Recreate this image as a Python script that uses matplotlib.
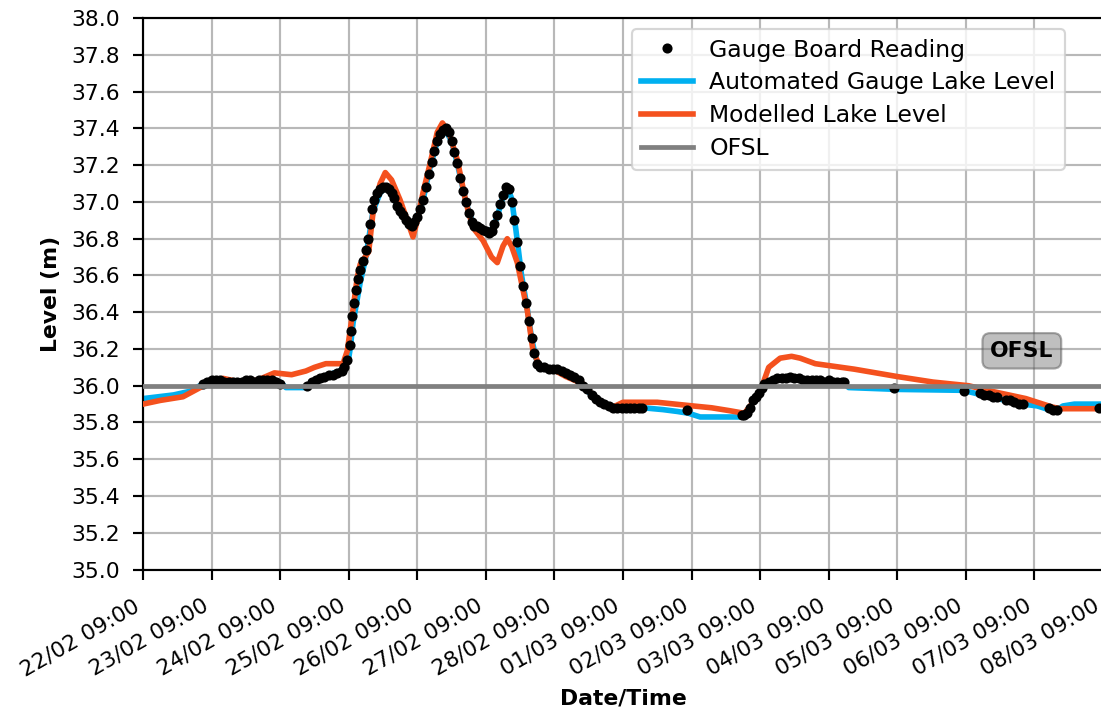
import numpy as np
import pandas as pd
import matplotlib
matplotlib.use('Agg')
import matplotlib.pyplot as plt
import matplotlib.dates as mdates

start = pd.Timestamp('2022-02-22 09:00')
ofsl = 36.0

# automated gauge lake level (hours after 22/02 09:00, level m)
auto_hours = [0, 10.7, 16.5, 21, 27, 34, 40, 45.7, 48, 50, 57, 60, 63, 69, 71.9,
              72.5, 73.5, 76, 78, 80.5, 83, 85, 87, 90, 94, 96, 98, 100.5, 103,
              105.5, 108, 110, 113, 115.5, 118, 121.5, 124, 126, 127.5, 129,
              130.5, 132.5, 134.5, 136, 137.5, 139, 144, 147, 150, 153, 157, 160,
              163, 166, 175, 182, 187, 191, 195, 205, 209, 210.5, 211.5, 212.5,
              213.5, 215.5, 217.5, 220, 226, 235, 241, 245, 247, 264, 287, 291,
              296, 302, 308, 313, 317, 320, 322, 326, 336]
auto_level = [35.93, 35.95, 35.97, 36.01, 36.03, 36.02, 36.02, 36.03, 36.02, 35.99,
              35.99, 36.03, 36.05, 36.08, 36.14, 36.20, 36.34, 36.56, 36.70, 36.95,
              37.05, 37.08, 37.05, 36.95, 36.88, 36.92, 37.01, 37.19, 37.33, 37.40,
              37.33, 37.21, 37.00, 36.88, 36.86, 36.83, 36.92, 37.03, 37.08, 37.02,
              36.85, 36.60, 36.42, 36.26, 36.15, 36.10, 36.09, 36.08, 36.05, 36.01,
              35.95, 35.91, 35.89, 35.88, 35.88, 35.87, 35.86, 35.85, 35.83, 35.83,
              35.83, 35.84, 35.85, 35.88, 35.92, 35.96, 36.01, 36.03, 36.04, 36.02,
              36.02, 36.02, 35.99, 35.98, 35.975, 35.96, 35.94, 35.92, 35.90, 35.89,
              35.87, 35.87, 35.89, 35.90, 35.90]

# modelled lake level
model_hours = [0, 6, 14, 20, 22, 28, 34, 40, 46, 52, 57, 60, 64, 70, 71.5, 72.5,
               75, 76, 79, 80.7, 83, 84.8, 87, 90, 94.5, 96, 98, 100.5, 103, 104.8,
               107, 110, 113, 115.5, 119, 122, 124, 126, 127.5, 129, 131, 134.5,
               136.5, 139, 144.5, 148, 154, 159, 164, 168, 180, 192.5, 199, 205,
               210.5, 214, 216.5, 219, 223, 227, 230, 235.3, 249, 264, 276.5, 289,
               297, 303, 309, 314, 318, 321, 336]
model_level = [35.90, 35.92, 35.94, 35.99, 36.01, 36.04, 36.02, 36.03, 36.07, 36.06,
               36.08, 36.10, 36.12, 36.12, 36.19, 36.30, 36.59, 36.66, 36.73, 36.97,
               37.10, 37.16, 37.12, 37.01, 36.81, 36.90, 37.05, 37.21, 37.38, 37.43,
               37.38, 37.23, 37.00, 36.86, 36.79, 36.70, 36.67, 36.76, 36.80, 36.76,
               36.67, 36.41, 36.19, 36.10, 36.08, 36.05, 36.01, 35.92, 35.88, 35.91,
               35.91, 35.89, 35.88, 35.865, 35.85, 35.92, 35.99, 36.10, 36.15, 36.16,
               36.15, 36.12, 36.09, 36.05, 36.02, 36.00, 35.97, 35.95, 35.93, 35.905,
               35.885, 35.875, 35.875]

# gauge board readings
board_hours = [21, 22.5, 24, 25.5, 27, 28.5, 30, 31.5, 33, 34.5, 36, 37.5, 39, 40.5,
               42, 43.5, 45, 46.5, 48,
               57.5, 59, 60.5, 62, 63.5, 65, 66.5, 68, 69.5, 70.5, 71.5,
               72.3, 72.8, 73.3, 73.8, 74.5, 75.2, 76, 77, 78, 78.8, 79.5, 80.2,
               81, 82, 83, 84, 85, 86, 87, 88, 89, 90, 91, 92, 93, 94, 95, 96, 97,
               98, 99, 100, 101, 102, 103, 104, 105, 106, 107, 108, 109, 110, 111,
               112, 113, 114, 115, 116, 117, 118, 119, 120, 121, 122, 123, 124, 125,
               126, 127, 128, 129, 130, 131, 132, 133, 134, 135, 136, 137, 138, 139,
               140.5, 142, 143.5, 145, 146.5, 148, 149.5, 151, 152.5, 154, 155.5,
               157, 158.5, 160, 161.5, 163, 164.5, 166, 167.5, 169, 170.5, 172,
               173.5, 174.5,
               190.3,
               209.5, 210.5, 211.5, 212.5, 213.5, 214.5, 215.5, 216.5, 217.5, 219,
               220.5, 222, 223.5, 225, 226.5, 228, 229.5, 231, 232.5, 234, 235.5,
               237, 238.5, 240, 241.5, 243, 244.5, 245.5,
               262.8, 287.5,
               293, 294.5, 296, 297.5, 299, 302, 303.5, 305, 306.5, 308, 317, 318.5,
               320, 334.5]
board_level = [36.01, 36.02, 36.03, 36.03, 36.03, 36.02, 36.02, 36.02, 36.02, 36.02,
               36.03, 36.03, 36.02, 36.03, 36.03, 36.03, 36.03, 36.02, 36.01,
               36.00, 36.02, 36.03, 36.04, 36.05, 36.06, 36.06, 36.07, 36.08, 36.10,
               36.14,
               36.22, 36.30, 36.38, 36.45, 36.52, 36.58, 36.63, 36.68, 36.74, 36.80,
               36.88, 36.96,
               37.01, 37.05, 37.07, 37.08, 37.08, 37.07, 37.05, 37.02, 36.98, 36.95,
               36.93, 36.90, 36.88, 36.87, 36.89, 36.92, 36.96, 37.01, 37.08, 37.15,
               37.22, 37.28, 37.33, 37.37, 37.39, 37.40, 37.38, 37.33, 37.27, 37.21,
               37.13, 37.06, 37.00, 36.94, 36.89, 36.87, 36.87, 36.86, 36.85, 36.84,
               36.83, 36.84, 36.88, 36.93, 36.99, 37.04, 37.08, 37.07, 37.00, 36.90,
               36.78, 36.65, 36.54, 36.45, 36.35, 36.26, 36.18, 36.12, 36.10,
               36.10, 36.09, 36.09, 36.09, 36.08, 36.07, 36.06, 36.05, 36.03, 36.00,
               35.98, 35.95, 35.93, 35.91, 35.90, 35.89, 35.88, 35.88, 35.88, 35.88,
               35.88, 35.88, 35.88, 35.88,
               35.87,
               35.84, 35.84, 35.85, 35.88, 35.92, 35.94, 35.96, 35.99, 36.01, 36.02,
               36.03, 36.04, 36.04, 36.04, 36.05, 36.04, 36.04, 36.03, 36.03, 36.03,
               36.03, 36.03, 36.02, 36.03, 36.02, 36.02, 36.02, 36.02,
               35.985, 35.97,
               35.96, 35.95, 35.95, 35.94, 35.94, 35.92, 35.92, 35.91, 35.90, 35.90,
               35.88, 35.87, 35.87, 35.88]

ticks = pd.date_range(start, periods=15, freq='D')


def to_time(hours):
    return start + pd.to_timedelta(np.array(hours), unit='h')


fig = plt.figure(figsize=(1101 / 155, 715 / 155), dpi=155)
ax = fig.add_axes([143 / 1101, 1 - 569.5 / 715, 960 / 1101, 551.3 / 715])

ax.plot(to_time(board_hours), board_level, 'o', color='black', markersize=3.7,
        label='Gauge Board Reading', zorder=4)
ax.plot(to_time(auto_hours), auto_level, color='#00b0f0', lw=2.6,
        label='Automated Gauge Lake Level', zorder=2)
ax.plot(to_time(model_hours), model_level, color='#f4511e', lw=2.6,
        label='Modelled Lake Level', zorder=3)
ax.axhline(ofsl, color='#808080', lw=2.2, label='OFSL', zorder=5)

ax.text(start + pd.Timedelta(hours=307.6), 36.19, 'OFSL', fontsize=10.2,
        fontweight='bold', ha='center', va='center',
        bbox=dict(boxstyle='round,pad=0.35', facecolor='gray', edgecolor='#555555',
                  alpha=0.5))

ax.set_xlim(ticks[0], ticks[-1])
ax.set_ylim(35.0, 38.0)
ax.set_yticks(np.arange(35.0, 38.01, 0.2))
ax.yaxis.set_major_formatter(matplotlib.ticker.FormatStrFormatter('%.1f'))
ax.set_xticks(ticks)
ax.xaxis.set_major_formatter(mdates.DateFormatter('%d/%m %H:%M'))
plt.setp(ax.get_xticklabels(), rotation=30, ha='right')

ax.tick_params(labelsize=10.2, length=4.6, width=1.0)
ax.tick_params(axis='x', pad=7.5)
ax.tick_params(axis='y', pad=6)
ax.grid(True, color='#b8b8b8', lw=1.0)
for s in ax.spines.values():
    s.set_linewidth(1.0)

ax.set_xlabel('Date/Time', fontsize=10.2, fontweight='bold')
ax.set_ylabel('Level (m)', fontsize=10.2, fontweight='bold', labelpad=5)

ax.legend(loc='upper right', bbox_to_anchor=((1065 - 143) / 960, 1 - 11 / 551.3),
          borderaxespad=0, fontsize=10.9, handlelength=2.2, labelspacing=0.42,
          handletextpad=0.7)

fig.savefig('out.png', dpi=155)
